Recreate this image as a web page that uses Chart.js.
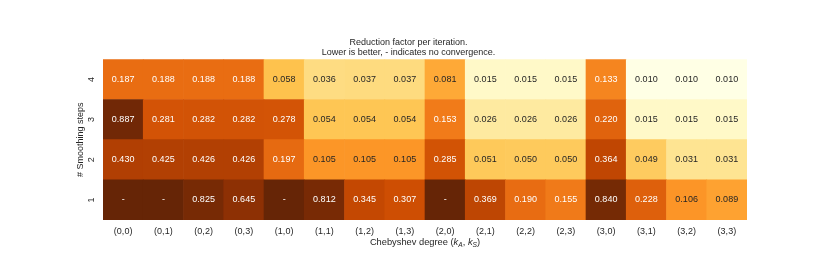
<!DOCTYPE html>
<html>
<head>
<meta charset="utf-8">
<script src="https://cdn.jsdelivr.net/npm/chart.js@4.4.1/dist/chart.umd.min.js"></script>
<style>
html,body{margin:0;padding:0;background:#fff;}
#wrap{width:830px;height:277px;}
</style>
</head>
<body>
<div id="wrap"><canvas id="c" width="830" height="277"></canvas></div>
<script>
// ---- data ----
const degreeLabels = ['(0,0)','(0,1)','(0,2)','(0,3)','(1,0)','(1,1)','(1,2)','(1,3)','(2,0)','(2,1)','(2,2)','(2,3)','(3,0)','(3,1)','(3,2)','(3,3)'];
const stepLabels = ['1','2','3','4'];
// null = no convergence ("-")
const steps1 = [null, null, 0.825, 0.645, null, 0.812, 0.345, 0.307, null, 0.369, 0.190, 0.155, 0.840, 0.228, 0.106, 0.089];
const steps2 = [0.430, 0.425, 0.426, 0.426, 0.197, 0.105, 0.105, 0.105, 0.285, 0.051, 0.050, 0.050, 0.364, 0.049, 0.031, 0.031];
const steps3 = [0.887, 0.281, 0.282, 0.282, 0.278, 0.054, 0.054, 0.054, 0.153, 0.026, 0.026, 0.026, 0.220, 0.015, 0.015, 0.015];
const steps4 = [0.187, 0.188, 0.188, 0.188, 0.058, 0.036, 0.037, 0.037, 0.081, 0.015, 0.015, 0.015, 0.133, 0.010, 0.010, 0.010];
const rows = [steps1, steps2, steps3, steps4];

// ---- colormap (YlOrBr, log norm 0.01..1) ----
const cmap = ['#ffffe5','#fff7bc','#fee391','#fec44f','#fe9929','#ec7014','#cc4c02','#993404','#662506'].map(h => [parseInt(h.slice(1,3),16),parseInt(h.slice(3,5),16),parseInt(h.slice(5,7),16)]);
const vmin = 0.01, vmax = 1;
function rgbFor(v){
  if (v == null) v = vmax;
  let t = (Math.log(v) - Math.log(vmin)) / (Math.log(vmax) - Math.log(vmin));
  t = Math.max(0, Math.min(1, t));
  const p = t * (cmap.length - 1);
  const i = Math.min(cmap.length - 2, Math.floor(p));
  const f = p - i;
  return cmap[i].map((c, k) => Math.round(c + (cmap[i+1][k] - c) * f));
}
function colorFor(v){ const c = rgbFor(v); return `rgb(${c[0]},${c[1]},${c[2]})`; }
function textColorFor(v){
  const c = rgbFor(v).map(x => { x /= 255; return x <= 0.03928 ? x / 12.92 : Math.pow((x + 0.055) / 1.055, 2.4); });
  const lum = 0.2126*c[0] + 0.7152*c[1] + 0.0722*c[2];
  return lum > 0.408 ? '#262626' : '#ffffff';
}

const FONT = '"Liberation Sans", Arial, Helvetica, sans-serif';

const datasets = rows.map((vals, r) => ({
  label: stepLabels[r],
  data: vals.map(() => [r + 0.5, r + 1.5]),
  rawValues: vals,
  backgroundColor: ctx => colorFor(vals[ctx.dataIndex]),
  borderWidth: 0,
  grouped: false,
  barPercentage: 1,
  categoryPercentage: 1
}));

const annotPlugin = {
  id: 'annot',
  afterDatasetsDraw(chart){
    const ctx = chart.ctx;
    ctx.save();
    ctx.font = `9px ${FONT}`;
    ctx.textAlign = 'center';
    ctx.textBaseline = 'middle';
    chart.data.datasets.forEach((ds, i) => {
      const meta = chart.getDatasetMeta(i);
      meta.data.forEach((bar, j) => {
        const v = ds.rawValues[j];
        const txt = v == null ? '-' : v.toFixed(3);
        ctx.fillStyle = textColorFor(v);
        ctx.fillText(txt, bar.x, (bar.y + bar.base) / 2);
      });
    });
    ctx.restore();
  }
};

const xTitlePlugin = {
  id: 'xTitle',
  afterDraw(chart){
    const ctx = chart.ctx;
    const area = chart.chartArea;
    const cx = (area.left + area.right) / 2;
    const y = area.bottom + 25;
    const normal = `9.3px ${FONT}`;
    const ital = `italic 9.3px ${FONT}`;
    const sub = `italic 6.7px ${FONT}`;
    const parts = [
      ['Chebyshev degree (', normal, 0],
      ['k', ital, 0],
      ['A', sub, 2],
      [', ', normal, 0],
      ['k', ital, 0],
      ['S', sub, 2],
      [')', normal, 0]
    ];
    ctx.save();
    ctx.textBaseline = 'alphabetic';
    ctx.textAlign = 'left';
    let w = 0;
    parts.forEach(p => { ctx.font = p[1]; w += ctx.measureText(p[0]).width; });
    let x = cx - w / 2;
    ctx.fillStyle = '#262626';
    parts.forEach(p => {
      ctx.font = p[1];
      ctx.fillText(p[0], x, y + p[2]);
      x += ctx.measureText(p[0]).width;
    });
    ctx.restore();
  }
};

new Chart(document.getElementById('c'), {
  type: 'bar',
  data: { labels: degreeLabels, datasets },
  options: {
    responsive: false,
    animation: false,
    layout: { padding: { left: 70, right: 83, top: 0, bottom: 0 } },
    plugins: {
      legend: { display: false },
      tooltip: { enabled: false },
      title: {
        display: true,
        text: ['Reduction factor per iteration.', 'Lower is better, - indicates no convergence.'],
        color: '#262626',
        font: { family: FONT, size: 9, weight: 'normal', lineHeight: 1.1 },
        padding: { top: 38, bottom: 1.5 }
      }
    },
    scales: {
      x: {
        grid: { display: false, drawTicks: false },
        border: { display: false },
        ticks: { color: '#262626', font: { family: FONT, size: 9 }, padding: 6, maxRotation: 0, minRotation: 0, autoSkip: false },
        afterFit: s => { s.height = 57; }
      },
      y: {
        min: 0.5, max: 4.5,
        grid: { display: false, drawTicks: false },
        border: { display: false },
        afterBuildTicks: s => { s.ticks = stepLabels.map((l, i) => ({ value: i + 1 })); },
        ticks: {
          color: '#262626',
          font: { family: FONT, size: 9 },
          callback: (v) => stepLabels[Math.round(v) - 1],
          minRotation: 90, maxRotation: 90,
          crossAlign: 'center',
          padding: 9
        },
        title: {
          display: true,
          text: '# Smoothing steps',
          color: '#262626',
          font: { family: FONT, size: 9, lineHeight: 1.1 },
          padding: { top: 6, bottom: 0 }
        },
        afterFit: s => { s.width = 33; }
      }
    }
  },
  plugins: [annotPlugin, xTitlePlugin]
});
</script>
</body>
</html>
